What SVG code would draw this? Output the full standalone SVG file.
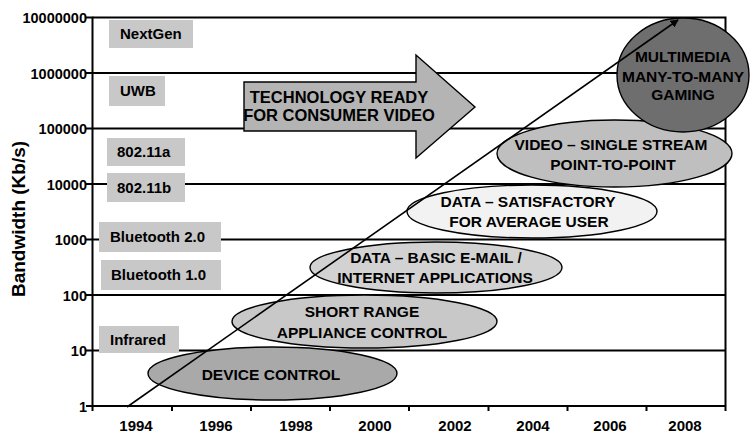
<svg xmlns="http://www.w3.org/2000/svg" width="750" height="436" viewBox="0 0 750 436">
<style>
text{font-family:"Liberation Sans",Arial,sans-serif;font-weight:bold;fill:#000}
.grid{stroke:#000;stroke-width:2;fill:none}
.tick{font-size:14.5px;text-anchor:end}
.year{font-size:15px;text-anchor:middle}
.box{fill:#c8c8c8}
.bl{font-size:15px}
.el{stroke:#000;stroke-width:1.4}
.et{font-size:15.5px;text-anchor:middle}
</style>
<defs>
<marker id="ah" viewBox="0 0 10 10" refX="9" refY="5" markerWidth="8" markerHeight="8" markerUnits="userSpaceOnUse" orient="auto"><path d="M0,0 L10,5 L0,10 z" fill="#000"/></marker>
</defs>
<rect width="750" height="436" fill="#fff"/>
<g id="grid">
<path class="grid" d="M92.5,17.5H725.5V406M92.5,73H725.5M92.5,128.5H725.5M92.5,184H725.5M92.5,239.5H725.5M92.5,295H725.5M92.5,350.5H725.5"/>
<path class="grid" d="M92.5,16.5V406M86,406H725.5M86,17.5H92.5M86,73H92.5M86,128.5H92.5M86,184H92.5M86,239.5H92.5M86,295H92.5M86,350.5H92.5M92.5,406V411M172,406V411M251,406V411M330,406V411M409,406V411M488.5,406V411M567.5,406V411M646.5,406V411M725.5,406V411"/>
</g>
<g id="yaxis">
<text class="tick" x="87" y="23">10000000</text>
<text class="tick" x="87" y="78.5">1000000</text>
<text class="tick" x="87" y="134">100000</text>
<text class="tick" x="87" y="189.5">10000</text>
<text class="tick" x="87" y="245">1000</text>
<text class="tick" x="87" y="300.5">100</text>
<text class="tick" x="87" y="356">10</text>
<text class="tick" x="87" y="411.5">1</text>
<text x="25" y="219" font-size="19" text-anchor="middle" transform="rotate(-90 25 219)">Bandwidth (Kb/s)</text>
</g>
<g id="xaxis">
<text class="year" x="136" y="431">1994</text>
<text class="year" x="216" y="431">1996</text>
<text class="year" x="296" y="431">1998</text>
<text class="year" x="375" y="431">2000</text>
<text class="year" x="455" y="431">2002</text>
<text class="year" x="533" y="431">2004</text>
<text class="year" x="610" y="431">2006</text>
<text class="year" x="685" y="431">2008</text>
</g>
<g id="nextgen"><rect class="box" x="109" y="20" width="84" height="28"/><text class="bl" x="120" y="39">NextGen</text></g>
<g id="uwb"><rect class="box" x="109" y="76" width="56" height="30"/><text class="bl" x="120" y="96">UWB</text></g>
<g id="w80211a"><rect class="box" x="107" y="138" width="78" height="28"/><text class="bl" x="117" y="157">802.11a</text></g>
<g id="w80211b"><rect class="box" x="107" y="173" width="78" height="29"/><text class="bl" x="117" y="193">802.11b</text></g>
<g id="bt20"><rect class="box" x="99" y="222" width="122" height="30"/><text class="bl" x="110" y="242">Bluetooth 2.0</text></g>
<g id="bt10"><rect class="box" x="101" y="260" width="120" height="30"/><text class="bl" x="111" y="280">Bluetooth 1.0</text></g>
<g id="infrared"><rect class="box" x="99" y="326" width="80" height="27"/><text class="bl" x="110" y="345">Infrared</text></g>
<g id="tech-arrow">
<path d="M244,82H416V55L475,107L416,158V131H244Z" fill="#b4b4b4" stroke="#000" stroke-width="1.4"/>
<text x="339" y="103" font-size="16.5" text-anchor="middle">TECHNOLOGY READY</text>
<text x="339" y="121" font-size="16.5" text-anchor="middle">FOR CONSUMER VIDEO</text>
</g>
<g id="device-control">
<ellipse class="el" cx="272.5" cy="373.5" rx="124.5" ry="26.5" fill="#a9a9a9"/>
<text class="et" x="271" y="380">DEVICE CONTROL</text>
</g>
<g id="short-range">
<ellipse class="el" cx="364.5" cy="321.5" rx="132.5" ry="26.5" fill="#c8c8c8"/>
<text class="et" x="362" y="317">SHORT RANGE</text>
<text class="et" x="362" y="338">APPLIANCE CONTROL</text>
</g>
<g id="data-basic">
<ellipse class="el" cx="436" cy="267.5" rx="126" ry="25.5" fill="#d2d2d2"/>
<text class="et" x="436" y="263">DATA – BASIC E-MAIL /</text>
<text class="et" x="435" y="283">INTERNET APPLICATIONS</text>
</g>
<g id="data-satisfactory">
<ellipse class="el" cx="532" cy="211.5" rx="125" ry="26.5" fill="#f2f2f2"/>
<text class="et" x="528" y="207">DATA – SATISFACTORY</text>
<text class="et" x="529" y="227">FOR AVERAGE USER</text>
</g>
<g id="video">
<ellipse class="el" cx="614.5" cy="153.5" rx="117.5" ry="33.5" fill="#bfbfbf"/>
<text class="et" x="611" y="150">VIDEO – SINGLE STREAM</text>
<text class="et" x="613" y="170">POINT-TO-POINT</text>
</g>
<g id="multimedia">
<ellipse class="el" cx="683" cy="75" rx="66" ry="57" fill="#6e6e6e"/>
<text class="et" x="683" y="62">MULTIMEDIA</text>
<text class="et" x="683" y="82">MANY-TO-MANY</text>
<text class="et" x="683" y="100">GAMING</text>
</g>
<g id="connectors">
<line x1="127" y1="407" x2="678" y2="20" stroke="#000" stroke-width="1.6" marker-end="url(#ah)"/>
</g>
</svg>
